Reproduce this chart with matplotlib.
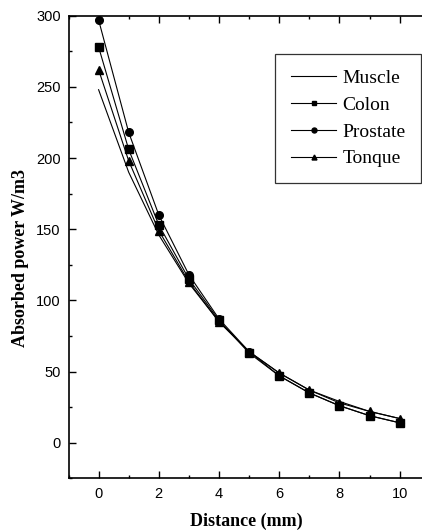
import matplotlib
matplotlib.use("Agg")
import matplotlib.pyplot as plt
from matplotlib.ticker import MultipleLocator

distance = [0, 1, 2, 3, 4, 5, 6, 7, 8, 9, 10]
muscle   = [248, 190, 146, 112, 85, 64, 49, 37, 29, 22, 17]
colon    = [278, 206, 153, 115, 86, 63, 47, 35, 26, 19, 14]
prostate = [297, 218, 160, 118, 87, 64, 47, 35, 26, 19, 14]
tonque   = [262, 198, 149, 113, 85, 64, 49, 37, 28, 22, 17]

series = [
    ("Muscle", muscle, None),
    ("Colon", colon, "s"),
    ("Prostate", prostate, "o"),
    ("Tonque", tonque, "^"),
]

W, H = 422, 531
fig = plt.figure(figsize=(W / 100, H / 100), dpi=100)
ax = fig.add_axes([68.5 / W, 52.7 / H, 361.2 / W, 462.6 / H])

for name, vals, mk in series:
    ax.plot(distance, vals, color="black", lw=0.8, marker=mk,
            markersize=5.5, markerfacecolor="black", markeredgecolor="black",
            label=name)

ax.set_xlim(-1, 11)
ax.set_ylim(-25, 300)
ax.xaxis.set_major_locator(MultipleLocator(2))
ax.xaxis.set_minor_locator(MultipleLocator(1))
ax.yaxis.set_major_locator(MultipleLocator(50))
ax.yaxis.set_minor_locator(MultipleLocator(25))

ax.tick_params(axis="x", which="both", direction="in", top=True, bottom=True,
               width=1.0, labelsize=10.5, pad=6)
ax.tick_params(axis="x", which="major", length=5)
ax.tick_params(axis="x", which="minor", length=2.5)
ax.tick_params(axis="y", which="both", direction="in", left=True, right=False,
               width=1.0, labelsize=10.5, pad=5.5)
ax.tick_params(axis="y", which="major", length=5)
ax.tick_params(axis="y", which="minor", length=2.5)
for lab in ax.get_xticklabels() + ax.get_yticklabels():
    lab.set_fontfamily("Liberation Sans")
for sp in ax.spines.values():
    sp.set_linewidth(1.2)

fig.text(246 / W, 1 - 521 / H, "Distance (mm)", ha="center", va="center",
         fontfamily="Liberation Serif", fontweight="bold", fontsize=13)
fig.text(21 / W, 1 - 258 / H, "Absorbed power W/m3", ha="center", va="center",
         rotation=90, fontfamily="Liberation Serif", fontweight="bold", fontsize=13)

leg = ax.legend(loc="upper right", bbox_to_anchor=(421 / W, 1 - 54 / H),
                bbox_transform=fig.transFigure, frameon=True, fancybox=False,
                edgecolor="black", prop={"family": "Liberation Serif", "size": 14},
                handlelength=2.35, handletextpad=0.3, labelspacing=0.47,
                borderpad=0.8, borderaxespad=0, markerscale=0.65)
leg.get_frame().set_linewidth(0.9)

fig.savefig("out.png", dpi=100)
